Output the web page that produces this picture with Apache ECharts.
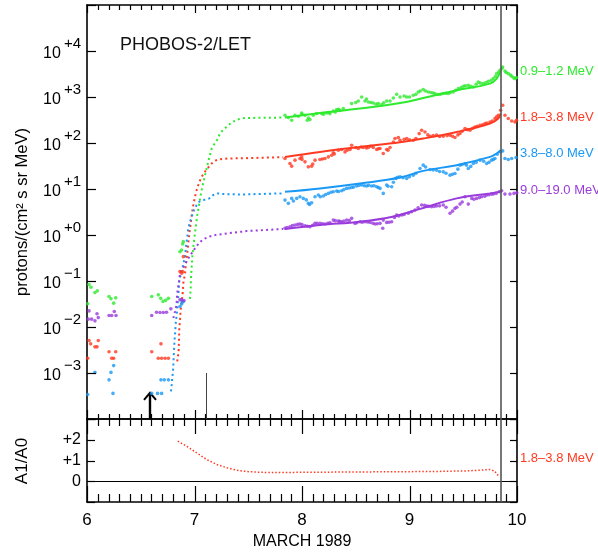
<!DOCTYPE html>
<html>
<head>
<meta charset="utf-8">
<script src="https://cdn.jsdelivr.net/npm/echarts@6.0.0/dist/echarts.min.js"></script>
<style>html,body{margin:0;padding:0;background:#fff}#c{width:598px;height:554px}
#err{position:absolute;left:2px;top:538px;width:80px;height:14px;overflow:hidden;font:8px monospace;color:#c0c;pointer-events:none;z-index:10}</style>
</head>
<body>
<div id="c"></div>
<div id="err"></div>
<script>
const errBox = document.getElementById('err');
const report = m => { errBox.textContent += String(m).slice(0, 60) + ' | '; };
window.addEventListener('error', e => report(e.message));
const origErr = console.error.bind(console);
console.error = (...a) => { report(a.join(' ')); origErr(...a); };

// ---------- axis ticks / labels ----------
const xMajorTicks = [6, 7, 8, 9, 10];
const xMinorTicks = [6.1,6.2,6.3,6.4,6.5,6.6,6.7,6.8,6.9, 7.1,7.2,7.3,7.4,7.5,7.6,7.7,7.8,7.9,
                     8.1,8.2,8.3,8.4,8.5,8.6,8.7,8.8,8.9, 9.1,9.2,9.3,9.4,9.5,9.6,9.7,9.8,9.9];
const fluxDecades = [1e-4, 1e-3, 1e-2, 1e-1, 1, 10, 100, 1e3, 1e4, 1e5];
const fluxDecadeLabels = [-3, -2, -1, 0, 1, 2, 3, 4];
const ratioTicks = [-1, 0, 1, 2, 3];
const ratioTickLabels = ['0', '+1', '+2'];

// ---------- data (time in days of March 1989, flux in protons/(cm2 s sr MeV)) ----------
const greenPts = [
 [6.006,0.032],[6.019,0.084],[6.037,0.073],[6.074,0.056],[6.096,0.061],
 [6.205,0.046],[6.223,0.041],[6.248,0.033],[6.267,0.043],
 [6.602,0.046],[6.663,0.050],[6.685,0.042],[6.707,0.036],[6.732,0.038],[6.757,0.042],
 [6.865,0.434],[6.880,0.473],[6.890,0.638],[6.896,0.716],
 [7.842,401],[7.873,357],[7.904,313],[7.935,401],[7.966,381],[7.997,450],[8.0,420],[8.028,401],[8.049,313],
 [8.06,350],[8.074,323],[8.105,401],[8.137,436],[8.183,436],[8.2,420],[8.230,450],[8.25,460],[8.260,436],
 [8.291,497],[8.31,470],[8.323,533],[8.34,540],[8.353,515],[8.384,560],[8.462,719],[8.5,760],[8.524,819],
 [8.555,1000],[8.586,819],[8.6,900],[8.617,779],[8.64,760],[8.663,741],[8.69,700],[8.710,719],[8.741,684],
 [8.76,750],[8.788,819],[8.819,819],[8.85,950],[8.881,1150],[8.912,1000],[8.95,1050],[8.974,1000],[9.0,1000],
 [9.035,1090],[9.06,1150],[9.082,1280],[9.1,1350],[9.128,1450],[9.15,1350],[9.175,1280],[9.2,1250],[9.221,1220],
 [9.24,1180],[9.268,1130],[9.29,1150],[9.314,1190],[9.34,1200],[9.361,1190],[9.38,1250],[9.407,1280],[9.43,1400],
 [9.454,1520],[9.48,1600],[9.501,1710],[9.52,1750],[9.547,1790],[9.57,1700],[9.594,1650],[9.62,1900],[9.640,2110],
 [9.66,2000],[9.687,1950],[9.71,2050],[9.733,2190],[9.76,2300],[9.780,2510],[9.8,2800],[9.811,3220],[9.83,3500],
 [9.842,3800],[9.86,4200],[9.867,4480],[9.888,3660],[9.9,3400],[9.919,3220],[9.94,3000],[9.951,2810],[9.97,2600],
 [9.981,2510],[9.995,2640]
];
const redPts = [
 [6.006,0.0021],[6.019,0.0051],[6.034,0.0043],[6.074,0.0037],[6.093,0.0037],[6.105,0.0051],
 [6.205,0.0029],[6.230,0.0021],[6.248,0.0021],[6.267,0.0029],
 [6.602,0.0029],[6.663,0.0021],[6.688,0.0043],[6.694,0.0021],[6.726,0.0021],[6.757,0.0021],
 [6.865,0.16],[6.880,0.148],[6.890,0.16],[6.896,0.338],
 [7.842,46.1],[7.888,35.9],[7.904,31.4],[7.935,42.4],[7.981,46.1],[7.997,49.9],[8.0,44],[8.028,38.9],
 [8.059,30.3],[8.090,31.4],[8.1,35],[8.121,42.4],[8.167,43.9],[8.19,45],[8.214,46.1],[8.245,49.9],
 [8.276,54.3],[8.291,61.0],[8.3,58],[8.338,69.8],[8.369,72.3],[8.400,64.1],[8.42,70],[8.447,72.3],
 [8.462,89.5],[8.5,80],[8.524,76],[8.55,82],[8.570,79.8],[8.6,78],[8.617,79.8],[8.64,85],[8.663,79.8],
 [8.695,72.3],[8.71,75],[8.726,76],[8.756,59.2],[8.788,72.3],[8.8,70],[8.819,79.8],[8.85,105],[8.865,125],
 [8.896,132],[8.912,115],[8.95,120],[8.974,125],[9.0,118],[9.035,115],[9.06,125],[9.09,160],[9.113,190],
 [9.144,174],[9.17,150],[9.191,140],[9.22,145],[9.252,148],[9.28,138],[9.314,140],[9.35,145],[9.377,148],
 [9.4,140],[9.423,132],[9.45,150],[9.470,161],[9.49,180],[9.516,206],[9.54,195],[9.563,190],[9.59,210],
 [9.609,223],[9.63,230],[9.656,243],[9.68,250],[9.702,265],[9.72,270],[9.749,287],[9.77,300],[9.795,340],
 [9.81,370],[9.826,401],[9.848,515],[9.867,661],[9.888,401],[9.919,340],[9.951,301],[9.981,286],[9.995,313]
];
const bluePts = [
 [6.006,0.00034],[6.074,0.00103],
 [6.205,0.00071],[6.223,0.00103],[6.242,0.00036],[6.248,0.00145],
 [6.602,0.00036],[6.656,0.00036],[6.688,0.00071],[6.694,0.00036],[6.719,0.00071],[6.757,0.00071],
 [6.865,0.0279],[6.880,0.0318],[6.890,0.0357],[6.896,0.0357],
 [7.842,5.74],[7.873,4.87],[7.904,6.25],[7.92,5.5],[7.951,6.25],[7.981,6.78],[8.012,6.25],[8.04,5.8],
 [8.059,4.87],[8.07,4.6],[8.090,5.02],[8.121,6.78],[8.152,7.38],[8.17,6.8],[8.198,7.02],[8.22,7.6],
 [8.245,8.03],[8.27,8.5],[8.291,8.69],[8.323,9.0],[8.34,8.8],[8.369,9.14],[8.39,9.7],[8.416,10.3],
 [8.44,10.5],[8.462,10.8],[8.48,11],[8.509,11.6],[8.53,12],[8.555,12.2],[8.58,11.8],[8.602,11.6],
 [8.62,12],[8.648,11.6],[8.67,11.8],[8.695,11.2],[8.71,10.8],[8.726,10.3],[8.756,8.03],[8.788,12.2],
 [8.8,11.5],[8.834,11.2],[8.85,14],[8.874,17.0],[8.89,18],[8.912,18.4],[8.94,17.5],[8.974,17.0],
 [9.0,18.5],[9.035,20.0],[9.06,22],[9.098,28.0],[9.128,33.0],[9.15,30],[9.191,26.6],[9.22,26],
 [9.252,25.7],[9.28,24],[9.314,23.6],[9.34,22],[9.377,20.0],[9.4,21],[9.423,21.8],[9.45,27],
 [9.470,33.0],[9.49,34],[9.516,35.9],[9.53,33],[9.547,28.0],[9.57,31],[9.594,35.9],[9.62,38],
 [9.656,42.4],[9.69,40],[9.718,35.9],[9.74,38],[9.764,42.4],[9.78,44],[9.795,46.1],[9.816,57.1],
 [9.848,64.1],[9.867,67.4],[9.888,46.1],[9.919,43.9],[9.951,46.1],[9.991,48.4]
];
const purplePts = [
 [6.012,0.0148],[6.019,0.0224],[6.043,0.0148],[6.074,0.0136],[6.093,0.0194],[6.105,0.016],
 [6.205,0.0178],[6.230,0.0178],[6.254,0.0218],[6.270,0.0178],
 [6.602,0.0178],[6.647,0.0209],[6.679,0.0207],[6.710,0.0207],[6.740,0.0209],[6.780,0.0248],
 [6.865,0.0389],[6.880,0.0389],[6.902,0.0376],
 [7.842,1.40],[7.86,1.45],[7.888,1.51],[7.91,1.6],[7.935,1.65],[7.96,1.7],[7.981,1.73],[8.0,1.68],
 [8.028,1.59],[8.05,1.55],[8.074,1.51],[8.1,1.62],[8.121,1.79],[8.14,1.8],[8.167,1.79],[8.19,1.75],
 [8.214,1.73],[8.24,1.8],[8.260,1.85],[8.291,2.11],[8.31,2.05],[8.338,2.01],[8.35,1.98],[8.369,1.94],
 [8.39,2.0],[8.416,2.11],[8.44,2.05],[8.462,2.30],[8.493,1.79],[8.51,1.85],[8.540,1.94],[8.56,1.9],
 [8.586,1.94],[8.61,1.92],[8.633,1.88],[8.66,1.8],[8.679,1.73],[8.7,1.76],[8.726,1.79],[8.751,1.40],
 [8.756,2.11],[8.788,1.88],[8.81,1.9],[8.834,1.94],[8.86,2.4],[8.881,2.72],[8.9,2.6],[8.928,2.72],
 [8.95,2.8],[8.989,2.96],[9.02,3.2],[9.051,3.48],[9.08,3.9],[9.113,4.48],[9.14,4.4],[9.160,4.26],
 [9.18,4.2],[9.206,4.11],[9.23,4.2],[9.252,4.26],[9.28,4.3],[9.314,4.48],[9.34,4.0],[9.377,2.96],
 [9.4,3.3],[9.423,3.79],[9.44,4.0],[9.470,4.70],[9.49,5.2],[9.516,6.78],[9.547,4.70],[9.579,6.25],
 [9.6,6.0],[9.625,6.25],[9.65,6.5],[9.671,6.78],[9.7,7.0],[9.718,7.38],[9.74,7.5],[9.764,7.75],
 [9.78,7.8],[9.805,8.03],[9.835,8.69],[9.857,9.14],[9.888,7.75],[9.935,7.75],[9.972,8.03],[9.998,8.3]
];

// dotted model curves (onset)
const greenRise = [
 [6.958,0.041],[6.965,0.0708],[6.967,0.117],[6.974,0.205],[6.980,0.338],[6.989,0.557],[7.002,1.0],
 [7.014,1.65],[7.026,2.72],[7.042,4.48],[7.058,7.38],[7.073,11.2],[7.091,17.0],[7.113,28.0],[7.135,46.1],
 [7.160,76],[7.191,100],[7.212,119],[7.237,161],[7.268,196],[7.305,231],[7.346,279],[7.386,313],
 [7.43,340],[7.479,350],[7.823,357]
];
const redRise = [
 [6.839,0.00179],[6.847,0.00237],[6.853,0.0032],[6.856,0.00527],[6.858,0.00869],[6.865,0.0143],
 [6.871,0.0236],[6.880,0.033],[6.890,0.0543],[6.896,0.0895],[6.912,0.148],[6.921,0.243],[6.933,0.401],
 [6.942,0.661],[6.952,1.09],[6.965,1.79],[6.974,2.72],[6.989,4.48],[7.005,6.78],[7.020,9.46],
 [7.044,14.1],[7.070,19.0],[7.107,25.7],[7.160,35.9],[7.191,41.3],[7.237,44.5],[7.314,46.1],
 [7.479,46.8],[7.823,49.2]
];
const blueRise = [
 [6.781,0.000399],[6.788,0.000557],[6.793,0.00078],[6.800,0.00108],[6.803,0.00151],[6.806,0.00211],
 [6.809,0.00294],[6.812,0.00411],[6.816,0.00574],[6.821,0.00798],[6.824,0.0112],[6.831,0.0156],
 [6.837,0.0217],[6.843,0.0303],[6.858,0.097],[6.874,0.148],[6.890,0.205],[6.912,0.338],[6.921,0.557],
 [6.933,0.919],[6.942,1.40],[6.958,1.94],[6.974,2.49],[6.995,3.48],[7.020,4.48],[7.044,5.27],
 [7.098,5.89],[7.138,6.25],[7.174,7.38],[7.221,8.03],[7.268,7.75],[7.377,7.64],[7.470,7.64],[7.823,8.03]
];
const purpleRise = [
 [6.803,0.0156],[6.819,0.0217],[6.833,0.0303],[6.839,0.0543],[6.849,0.0756],[6.858,0.106],
 [6.865,0.148],[6.884,0.174],[6.921,0.251],[6.952,0.338],[6.983,0.434],[7.005,0.514],[7.035,0.638],
 [7.073,0.779],[7.119,0.892],[7.168,0.966],[7.216,1.02],[7.261,1.05],[7.308,1.09],[7.355,1.12],
 [7.402,1.16],[7.439,1.18],[7.486,1.22],[7.823,1.35]
];

// solid model fits
const greenFit = [[7.842,357],[8.167,450],[8.540,560],[8.912,740],[9.128,950],[9.439,1400],[9.749,1950],[9.811,2510],[9.842,3480]];
const redFit = [[7.842,49.9],[8.167,64.1],[8.540,82.2],[8.912,104],[9.128,125],[9.439,174],[9.749,265],[9.826,340],[9.848,436]];
const blueFit = [[7.842,8.69],[8.167,10.3],[8.540,13.2],[8.912,17.7],[9.128,24.8],[9.439,33.0],[9.749,49.9],[9.811,59.2],[9.848,69.8]];
const purpleFit = [[7.842,1.35],[8.167,1.65],[8.540,1.94],[8.83,2.45],[9.1,3.7],[9.439,6.25],[9.749,8.03],[9.842,8.69]];

// anisotropy ratio A1/A0 (1.8-3.8 MeV)
const ratio = [
 [6.844,1.93],[6.927,1.69],[7.020,1.37],[7.113,1.05],[7.206,0.81],[7.300,0.65],[7.393,0.53],
 [7.486,0.47],[7.609,0.43],[7.765,0.42],[7.981,0.43],[8.602,0.45],[9.221,0.47],[9.533,0.50],
 [9.656,0.53],[9.749,0.57],[9.795,0.48],[9.811,0.32],[9.842,0.28]
];

const shockTime = 9.851;       // vertical line through both panels
const markTime = 7.107;        // short marker line
const markTop = 1e-3;
const arrowTime = 6.586;       // arrow
const arrowTip = 3.7e-4;

const C = {green:'#2eea2e', red:'#ff3a22', blue:'#1a98f5', purple:'#9a3bdc'};
const FONT = '"Liberation Sans", Arial, Helvetica, sans-serif';

// ---------- chart ----------
const chart = echarts.init(document.getElementById('c'));

function lineSt() { return {color:'#000', width:1.6}; }
function xAx(grid, pos, extra) {
  return Object.assign({
    type:'value', gridIndex:grid, position:pos, min:6, max:10, interval:1,
    axisLine:{show:true, onZero:false, lineStyle:lineSt()},
    axisTick:{show:false}, minorTick:{show:false},
    axisLabel:{show:false}, splitLine:{show:false}
  }, extra || {});
}
const supFmt = v => {
  const e = Math.round(Math.log10(v));
  if (fluxDecadeLabels.indexOf(e) < 0) return '';
  const s = e >= 0 ? '+' + e : '\u2212' + (-e);
  return '{b|10}{s|' + s + '}';
};

const scatter = (name, data, color) => ({
  name, type:'scatter', xAxisIndex:0, yAxisIndex:0, data, symbol:'circle', symbolSize:3.6,
  itemStyle:{color}, z:3
});
const dotted = (name, data, color) => ({
  name, type:'line', xAxisIndex:0, yAxisIndex:0, data, showSymbol:false, symbol:'none',
  lineStyle:{color, width:2, type:[2, 3.2]}, z:2
});
const fit = (name, data, color, extra) => Object.assign({
  name, type:'line', xAxisIndex:0, yAxisIndex:0, data, showSymbol:false, symbol:'none', smooth:0.4,
  lineStyle:{color, width:2}, z:2
}, extra || {});
const labelTxt = (text, x, y, color) => ({type:'text', x, y, silent:true, z:10,
  style:{text, fill:color, font:'13px ' + FONT, verticalAlign:'middle', align:'left'}});

const option = {
  animation:false,
  grid:[
    {left:87, top:5, width:430, height:414},
    {left:87, top:419, width:430, height:83}
  ],
  xAxis:[
    xAx(0,'bottom'),
    xAx(0,'top'),
    xAx(1,'top'),
    xAx(1,'bottom',{
      axisLabel:{show:true, margin:10, fontFamily:FONT, fontSize:17, color:'#000',
        formatter: v => (xMajorTicks.indexOf(v) >= 0 ? String(v) : '')}
    })
  ],
  yAxis:[
    {type:'log', gridIndex:0, position:'left', min:1e-4, max:1e5,
     axisLine:{show:true, lineStyle:lineSt()}, axisTick:{show:false}, minorTick:{show:false}, splitLine:{show:false},
     axisLabel:{show:true, margin:6, formatter:supFmt, padding:[0,0,4,0],
       rich:{b:{fontFamily:FONT, fontSize:16, color:'#000', padding:[10,0,0,0]},
             s:{fontFamily:FONT, fontSize:15, color:'#000', verticalAlign:'top', padding:[0,0,0,3]}}}},
    {type:'log', gridIndex:0, position:'right', min:1e-4, max:1e5,
     axisLine:{show:true, lineStyle:lineSt()}, axisTick:{show:false}, minorTick:{show:false},
     splitLine:{show:false}, axisLabel:{show:false}},
    {type:'value', gridIndex:1, position:'left', min:-1, max:3, interval:1,
     axisLine:{show:true, onZero:false, lineStyle:lineSt()}, axisTick:{show:false}, splitLine:{show:false},
     axisLabel:{show:true, margin:6, fontFamily:FONT, fontSize:16, color:'#000',
       formatter: v => (v >= 0 && v <= 2 ? ratioTickLabels[v] : '')}},
    {type:'value', gridIndex:1, position:'right', min:-1, max:3, interval:1,
     axisLine:{show:true, onZero:false, lineStyle:lineSt()}, axisTick:{show:false},
     splitLine:{show:false}, axisLabel:{show:false}}
  ],
  series:[
    dotted('g-rise', greenRise, C.green),
    dotted('r-rise', redRise, C.red),
    dotted('b-rise', blueRise, C.blue),
    dotted('p-rise', purpleRise, C.purple),
    fit('g-fit', greenFit, C.green, {
      markLine:{silent:true, symbol:'none', label:{show:false},
        data:[
          {xAxis:shockTime, lineStyle:{color:'#555', width:1.6, type:'solid'}},
          [{coord:[markTime, 1e-4], lineStyle:{color:'#444', width:1, type:'solid'}}, {coord:[markTime, markTop]}]
        ]}
    }),
    fit('r-fit', redFit, C.red),
    fit('b-fit', blueFit, C.blue),
    fit('p-fit', purpleFit, C.purple),
    scatter('0.9-1.2 MeV', greenPts, C.green),
    scatter('1.8-3.8 MeV', redPts, C.red),
    scatter('3.8-8.0 MeV', bluePts, C.blue),
    scatter('9.0-19.0 MeV', purplePts, C.purple),
    {name:'arrow', type:'custom', xAxisIndex:0, yAxisIndex:0, silent:true, clip:false,
     data:[[arrowTime, arrowTip]],
     renderItem:(params, api) => {
       const tip = api.coord([api.value(0), api.value(1)]);
       const bot = api.coord([api.value(0), 1e-4]);
       return {type:'group', children:[
         {type:'line', shape:{x1:bot[0], y1:bot[1], x2:tip[0], y2:tip[1]}, style:{stroke:'#000', lineWidth:2.4}},
         {type:'polyline', shape:{points:[[tip[0]-6, tip[1]+7],[tip[0], tip[1]],[tip[0]+6, tip[1]+7]]},
          style:{stroke:'#000', lineWidth:2, fill:null}}
       ]};
     }},
    {name:'A1/A0', type:'line', xAxisIndex:3, yAxisIndex:2, data:ratio, showSymbol:false, symbol:'none',
     lineStyle:{color:C.red, width:1.5, type:[1.5, 2]},
     markLine:{silent:true, symbol:'none', label:{show:false},
       data:[
         {yAxis:0, lineStyle:{color:'#000', width:1.2, type:'solid'}},
         {xAxis:shockTime, lineStyle:{color:'#555', width:1.6, type:'solid'}}
       ]}}
  ]
};
try { chart.setOption(option); } catch (e) { report('opt: ' + e.message); }

// ---------- texts and tick marks as graphic elements, positioned through the axes' scales ----------
const g0 = {xAxisIndex:0, yAxisIndex:0};
const g1 = {xAxisIndex:3, yAxisIndex:2};
const px = (f, pt) => chart.convertToPixel(f, pt);
const crisp = v => Math.round(v) + 0.5;
const tick = (x1, y1, x2, y2) => ({type:'line', silent:true, z:20,
  shape:{x1, y1, x2, y2}, style:{stroke:'#000', lineWidth:1.2}});

const graphics = [
  {type:'text', x:120, y:45, silent:true, z:10,
   style:{text:'PHOBOS-2/LET', fill:'#111', font:'18px ' + FONT, verticalAlign:'middle'}},
  {type:'text', x:22, y:212, rotation:Math.PI / 2, silent:true, z:10,
   style:{text:'protons/(cm\u00b2 s sr MeV)', fill:'#000', font:'16.5px ' + FONT, align:'center', verticalAlign:'middle'}},
  {type:'text', x:22, y:461, rotation:Math.PI / 2, silent:true, z:10,
   style:{text:'A1/A0', fill:'#000', font:'17px ' + FONT, align:'center', verticalAlign:'middle'}},
  {type:'text', x:302, y:542, silent:true, z:10,
   style:{text:'MARCH 1989', fill:'#000', font:'16px ' + FONT, align:'center', verticalAlign:'middle'}},
  labelTxt('0.9\u20131.2 MeV', 520, 71, C.green),
  labelTxt('1.8\u20133.8 MeV', 520, 117, C.red),
  labelTxt('3.8\u20138.0 MeV', 520, 153, C.blue),
  labelTxt('9.0\u201319.0 MeV', 520, 190, C.purple),
  labelTxt('1.8\u20133.8 MeV', 520, 458, C.red)
];

try {
  const top0 = px(g0, [6, 1e5])[1], bot0 = px(g0, [6, 1e-4])[1];
  const top1 = px(g1, [6, 3])[1], bot1 = px(g1, [6, -1])[1];
  const left = px(g0, [6, 1])[0], right = px(g0, [10, 1])[0];
  const addX = (t, major) => {
    const x = crisp(px(g0, [t, 1])[0]);
    graphics.push(tick(x, top0, x, top0 + (major ? 8 : 5)));      // top edge, pointing down
    graphics.push(tick(x, bot0, x, bot0 - (major ? 9 : 5)));      // upper panel bottom, pointing up
    graphics.push(tick(x, top1, x, top1 + (major ? 15 : 7)));     // lower panel top, pointing down
    graphics.push(tick(x, bot1, x, bot1 - (major ? 16 : 8)));     // lower panel bottom, pointing up
  };
  xMajorTicks.forEach(t => addX(t, true));
  xMinorTicks.forEach(t => addX(t, false));
  fluxDecades.forEach(v => {
    const y = crisp(px(g0, [6, v])[1]);
    graphics.push(tick(left, y, left + 9, y));
    graphics.push(tick(right, y, right - 7, y));
  });
  ratioTicks.forEach(v => {
    const y = crisp(px(g1, [6, v])[1]);
    graphics.push(tick(left, y, left + 8, y));
    graphics.push(tick(right, y, right - 7, y));
  });
} catch (e) { report('ticks: ' + e.message); }

try { chart.setOption({graphic: graphics}); } catch (e) { report('gfx: ' + e.message); }
</script>
</body>
</html>
